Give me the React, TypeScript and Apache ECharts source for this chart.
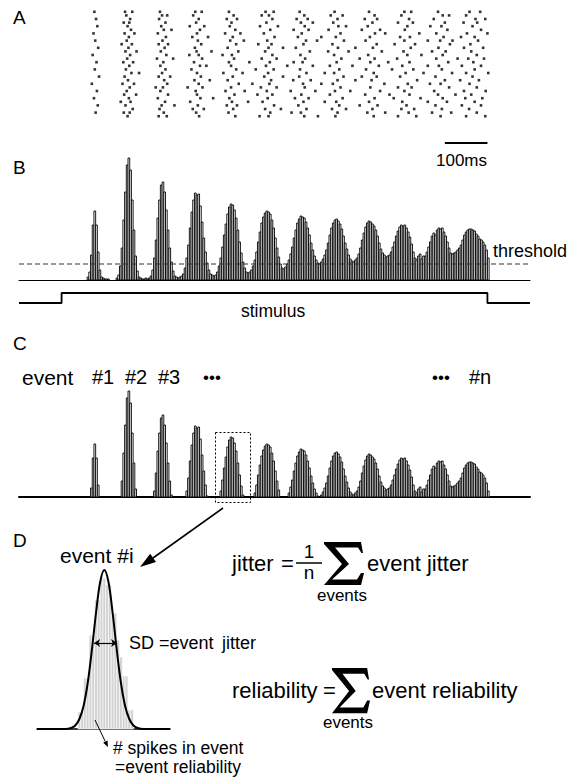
import React, { useEffect, useRef } from "react";
import * as echarts from "echarts";

const FONT = "'Liberation Sans', Arial, Helvetica, sans-serif";

// shared time axis (ms) for panels A-C
const TIME_MIN = -100;
const TIME_MAX = 1100;

// stimulus trace (ms, on/off)
const stimulusTrace = [
  [-100, 0], [0, 0], [0, 1], [1000, 1], [1000, 0], [1100, 0],
];
// 100 ms scale bar
const scaleBar = [[900, 0], [1000, 0]];

// PSTH: 4 ms bins starting at 60 ms
const BIN_START = 60;
const BIN_WIDTH = 4;
const psthCounts = [
  // event 1
  3, 8, 25, 55, 69, 55, 28, 10, 3, 2,
  1, 1, 1, 0, 0, 0, 0,
  // event 2
  2, 5, 14, 32, 60, 88, 115, 122, 110, 80, 50, 24, 9, 3, 2, 1, 1, 2, 1,
  // event 3
  2, 4, 10, 22, 40, 62, 80, 95, 98, 88, 70, 50, 32, 18, 9, 4, 3, 2, 3,
  // event 4
  4, 6, 12, 22, 35, 52, 68, 80, 87, 85, 86, 74, 58, 42, 28, 17, 10, 6, 5, 4,
  // event 5
  5, 8, 14, 22, 33, 45, 56, 66, 73, 76, 75, 70, 62, 50, 38, 27, 18, 12, 8, 7, 8,
  // event 6
  10, 14, 20, 28, 38, 48, 57, 63, 67, 69, 68, 66, 60, 52, 42, 32, 23, 16, 12, 11, 13,
  // event 7
  16, 20, 26, 33, 42, 50, 57, 61, 64, 63, 62, 58, 52, 45, 37, 30, 24, 20, 17, 16, 18,
  // event 8
  21, 25, 30, 37, 45, 52, 57, 60, 61, 59, 56, 51, 44, 37, 31, 25, 21, 19, 18, 20,
  // event 9
  22, 26, 32, 40, 47, 53, 57, 59, 58, 56, 54, 50, 44, 37, 31, 27, 25, 23, 24, 25,
  // event 10
  28, 33, 38, 44, 49, 53, 55, 54, 55, 52, 48, 43, 36, 28, 22, 20, 24, 26, 21, 24,
  // event 11
  24, 28, 33, 38, 44, 47, 45, 50, 52, 51, 52, 48, 44, 38, 32, 27, 26, 27,
  // event 12
  28, 30, 32, 35, 40, 45, 48, 50, 51, 51, 50, 49, 46, 44, 41, 40, 38, 35, 30, 22,
];
const THRESHOLD = 16;

// raster: spike times (ms) per trial
const rasterTrials = [
  [77, 149, 166, 231, 314, 329, 393, 479, 498, 559, 641, 722, 805, 821, 884, 958, 983],
  [152, 236, 248, 309, 404, 470, 487, 570, 632, 660, 735, 798, 895, 910, 950],
  [81, 161, 229, 322, 388, 412, 495, 552, 578, 648, 712, 741, 816, 874, 972, 995],
  [146, 159, 244, 316, 399, 481, 562, 590, 638, 730, 790, 825, 900, 944, 976],
  [84, 155, 234, 301, 335, 395, 466, 508, 571, 650, 668, 719, 812, 866, 892, 965],
  [163, 240, 258, 325, 408, 490, 545, 580, 627, 705, 748, 806, 906, 985],
  [75, 148, 171, 226, 318, 384, 420, 475, 564, 655, 736, 760, 840, 880, 952, 1000],
  [158, 245, 307, 344, 402, 500, 555, 610, 644, 724, 795, 818, 897, 938, 970],
  [79, 153, 237, 320, 396, 428, 483, 574, 600, 663, 714, 805, 860, 889, 918, 978],
  [141, 165, 228, 250, 328, 410, 462, 493, 568, 636, 740, 782, 830, 912, 960],
  [86, 157, 242, 313, 390, 486, 520, 550, 649, 690, 731, 820, 885, 945, 990],
  [150, 176, 233, 317, 352, 415, 478, 583, 626, 674, 752, 803, 870, 902, 962],
  [73, 161, 246, 300, 322, 378, 400, 495, 561, 640, 720, 812, 845, 895, 975],
  [154, 224, 262, 330, 405, 470, 505, 572, 657, 700, 735, 788, 880, 930, 955, 992],
  [82, 145, 168, 239, 311, 393, 441, 489, 545, 566, 646, 725, 767, 817, 908, 967],
  [159, 232, 325, 340, 398, 480, 530, 590, 630, 683, 745, 800, 860, 886, 940, 985],
  [78, 151, 244, 305, 410, 456, 498, 560, 652, 715, 776, 826, 893, 970],
  [164, 182, 236, 318, 380, 425, 485, 575, 618, 640, 733, 808, 850, 917, 950, 1002],
  [88, 148, 228, 255, 327, 402, 476, 520, 558, 662, 705, 740, 795, 878, 965],
  [156, 241, 312, 348, 390, 492, 544, 585, 648, 690, 728, 835, 900, 936, 980],
  [71, 143, 170, 248, 322, 416, 448, 488, 567, 610, 637, 758, 813, 865, 890, 958],
  [160, 221, 238, 296, 331, 398, 468, 505, 571, 655, 725, 790, 822, 910, 975],
  [83, 153, 232, 315, 385, 430, 482, 538, 596, 642, 678, 748, 805, 875, 945, 996],
  [147, 175, 250, 318, 406, 460, 495, 563, 630, 713, 770, 817, 884, 925, 962],
  [76, 158, 226, 326, 356, 394, 484, 548, 580, 660, 735, 780, 843, 895, 948, 988],
  [139, 162, 243, 302, 400, 438, 472, 568, 618, 645, 722, 800, 860, 905, 970],
  [85, 150, 235, 265, 320, 388, 412, 499, 556, 652, 700, 742, 810, 878, 940, 985],
  [167, 230, 308, 334, 403, 478, 515, 575, 635, 668, 730, 798, 828, 893, 957],
  [80, 146, 160, 240, 316, 392, 490, 540, 562, 648, 718, 760, 815, 870, 915, 975],
  [155, 228, 247, 323, 408, 465, 486, 570, 602, 643, 733, 790, 833, 890, 950, 995],
];

// panel D: single event histogram (local units) and fitted curve
const EVENT_HIST_START = 14.8;
const eventHist = [17, 17, 51, 51, 94, 94, 129, 129, 151, 151, 144, 144, 116, 116, 89, 72, 53, 53, 19, 19];
const gaussCurve = [
  [0, 0], [10.3, 0], [12.3, 1], [13.8, 3.5], [15.3, 10], [16.8, 23], [18.3, 46],
  [19.8, 79], [21.3, 116], [22.8, 147], [24.3, 159], [25.8, 147], [27.3, 116],
  [28.8, 79], [30.3, 46], [31.8, 23], [33.3, 10], [34.8, 3.5], [36.3, 1], [38.3, 0], [48, 0],
];
const sdArrow = [[20.6, 86], [28.9, 86]];

const SIGMA = [
  [0, 0], [37, 0], [39, 11], [37.5, 11], [34, 5.5], [11, 5.5], [25, 22], [8, 37.5],
  [33, 37.5], [37, 31], [40, 31], [37, 43], [0, 43], [18, 22], [0, 2],
];

function txt(text: string, x: number, y: number, size: number, align: string = "left") {
  return {
    type: "text",
    x,
    y,
    z: 100,
    silent: true,
    style: {
      text,
      fontSize: size,
      fontFamily: FONT,
      fill: "#000",
      align,
      verticalAlign: "middle",
    },
  };
}

function barRenderer(fill: string, stroke: string, lw: number) {
  return (params: any, api: any) => {
    const a = api.coord([api.value(0), api.value(2)]);
    const b = api.coord([api.value(1), 0]);
    return {
      type: "rect",
      shape: { x: a[0], y: a[1], width: b[0] - a[0], height: b[1] - a[1] },
      style: { fill, stroke, lineWidth: lw },
    };
  };
}

export default function App() {
  const ref = useRef<HTMLDivElement>(null);

  useEffect(() => {
    if (!ref.current) return;
    const chart = echarts.init(ref.current, null, { renderer: "svg" });

    const psthData = psthCounts
      .map((v, i) => [BIN_START + i * BIN_WIDTH, BIN_START + (i + 1) * BIN_WIDTH, v])
      .filter((d) => d[2] > 0);
    const eventData = psthCounts
      .map((v, i) => [BIN_START + i * BIN_WIDTH, BIN_START + (i + 1) * BIN_WIDTH, v - THRESHOLD])
      .filter((d) => d[2] > 0);
    const rasterData: number[][] = [];
    rasterTrials.forEach((trial, row) => trial.forEach((t) => rasterData.push([t, row])));
    const histD = eventHist.map((h, i) => [EVENT_HIST_START + i, EVENT_HIST_START + i + 1, h]);

    const hiddenX = (gi: number) => ({
      gridIndex: gi, type: "value", min: TIME_MIN, max: TIME_MAX, show: false,
    });
    const lineX = (gi: number, min: number, max: number, w: number) => ({
      gridIndex: gi, type: "value", min, max,
      axisLine: { show: true, onZero: false, lineStyle: { color: "#000", width: w } },
      axisTick: { show: false }, axisLabel: { show: false }, splitLine: { show: false },
    });
    const hiddenY = (gi: number, min: number, max: number, inverse = false) => ({
      gridIndex: gi, type: "value", min, max, inverse, show: false, splitLine: { show: false },
    });
    const g = (left: number, top: number, width: number, height: number) => ({
      left, top, width, height, containLabel: false, outerBoundsMode: "none",
    });

    const option: any = {
      animation: false,
      backgroundColor: "#fff",
      grid: [
        g(19, 10, 511, 108), // A raster
        g(19, 138, 511, 10), // scale bar
        g(19, 150, 511, 130), // B psth
        g(19, 293, 511, 10), // stimulus
        g(19, 367, 511, 130), // C events
        g(37, 559, 133, 170), // D
      ],
      xAxis: [
        hiddenX(0),
        hiddenX(1),
        lineX(2, TIME_MIN, TIME_MAX, 1),
        hiddenX(3),
        lineX(4, TIME_MIN, TIME_MAX, 2),
        lineX(5, 0, 48, 1.5),
      ],
      yAxis: [
        hiddenY(0, -0.5, 29.5, true),
        hiddenY(1, -1, 1),
        hiddenY(2, 0, 130),
        hiddenY(3, 0, 1),
        hiddenY(4, 0, 130),
        hiddenY(5, 0, 170),
      ],
      series: [
        {
          type: "scatter", xAxisIndex: 0, yAxisIndex: 0, data: rasterData,
          symbol: "rect", symbolSize: 2.6, itemStyle: { color: "#000" }, silent: true,
        },
        {
          type: "line", xAxisIndex: 1, yAxisIndex: 1, data: scaleBar, symbol: "none", clip: false,
          lineStyle: { color: "#000", width: 1.8 }, silent: true,
        },
        {
          type: "custom", xAxisIndex: 2, yAxisIndex: 2, data: psthData, clip: false,
          renderItem: barRenderer("#fff", "#000", 0.9), silent: true,
        },
        {
          type: "line", xAxisIndex: 2, yAxisIndex: 2, z: 5, clip: false,
          data: [[TIME_MIN, THRESHOLD], [TIME_MAX, THRESHOLD]], symbol: "none",
          lineStyle: { color: "#333", width: 1, type: [5, 3] }, silent: true,
        },
        {
          type: "line", xAxisIndex: 3, yAxisIndex: 3, data: stimulusTrace, symbol: "none", clip: false,
          lineStyle: { color: "#000", width: 1.8 }, silent: true,
        },
        {
          type: "custom", xAxisIndex: 4, yAxisIndex: 4, data: eventData, clip: false,
          renderItem: barRenderer("#fff", "#000", 0.9), silent: true,
        },
        {
          type: "custom", xAxisIndex: 5, yAxisIndex: 5, data: histD, clip: false,
          renderItem: barRenderer("#d2d2d2", "#fff", 0.6), silent: true,
        },
        {
          type: "line", xAxisIndex: 5, yAxisIndex: 5, data: gaussCurve, symbol: "none",
          smooth: 0.35, clip: false, z: 5,
          lineStyle: { color: "#000", width: 2 }, silent: true,
          markLine: {
            silent: true, symbol: ["arrow", "arrow"], symbolSize: 6,
            label: { show: false },
            lineStyle: { color: "#000", width: 1.2, type: "solid" },
            data: [[{ coord: sdArrow[0] }, { coord: sdArrow[1] }]],
          },
        },
      ],
      graphic: [
        txt("A", 13, 17, 19),
        txt("B", 13, 167, 19),
        txt("C", 13, 343, 19),
        txt("D", 13, 540, 19),
        txt("100ms", 487, 160, 17, "right"),
        txt("threshold", 493, 251, 18),
        txt("stimulus", 241, 311, 17.5),
        txt("event", 22, 377, 21),
        txt("#1", 92, 377, 20),
        txt("#2", 125, 377, 20),
        txt("#3", 158, 377, 20),
        txt("•••", 203, 377, 17),
        txt("•••", 432, 377, 17),
        txt("#n", 469, 377, 20),
        txt("event #i", 60, 555, 21),
        txt("SD =event", 129, 643, 18),
        txt("jitter", 222, 643, 18),
        txt("# spikes in event", 113, 748, 17.5),
        txt("=event reliability", 115, 767, 17.5),
        // equation 1
        txt("jitter", 232, 563, 22),
        txt("=", 281, 563, 22),
        txt("1", 309, 551, 19, "center"),
        txt("n", 309, 572, 19, "center"),
        {
          type: "line", z: 100, silent: true,
          shape: { x1: 296, y1: 563, x2: 322, y2: 563 },
          style: { stroke: "#000", lineWidth: 1.5 },
        },
        { type: "polygon", x: 324, y: 542, z: 100, silent: true, shape: { points: SIGMA }, style: { fill: "#000" } },
        txt("event jitter", 367, 563, 22),
        txt("events", 342, 595, 17, "center"),
        // equation 2
        txt("reliability", 232, 690, 22),
        txt("=", 323, 690, 22),
        {
          type: "polygon", x: 332, y: 668, scaleX: 0.95, scaleY: 1.05, z: 100, silent: true,
          shape: { points: SIGMA }, style: { fill: "#000" },
        },
        txt("event reliability", 372, 690, 22),
        txt("events", 348, 722, 17, "center"),
        // dotted box around event in C
        {
          type: "rect", z: 100, silent: true,
          shape: { x: 215.5, y: 432.5, width: 35, height: 70 },
          style: { fill: "none", stroke: "#000", lineWidth: 1, lineDash: [2, 2] },
        },
        // big arrow C -> D
        {
          type: "line", z: 100, silent: true,
          shape: { x1: 223, y1: 508, x2: 153, y2: 558 },
          style: { stroke: "#000", lineWidth: 1.6 },
        },
        {
          type: "polygon", z: 100, silent: true,
          shape: { points: [[140, 567], [156, 561.9], [150.2, 553.7]] },
          style: { fill: "#000" },
        },
        // small arrow in D
        {
          type: "line", z: 100, silent: true,
          shape: { x1: 95, y1: 720, x2: 105.3, y2: 741.6 },
          style: { stroke: "#000", lineWidth: 1 },
        },
        {
          type: "polygon", z: 100, silent: true,
          shape: { points: [[108, 747], [107.5, 740.5], [103.1, 742.7]] },
          style: { fill: "#000" },
        },
      ],
    };

    chart.setOption(option);
    return () => chart.dispose();
  }, []);

  return (
    <div
      ref={ref}
      style={{ position: "fixed", left: 0, top: 0, width: 579, height: 778, background: "#fff" }}
    />
  );
}
